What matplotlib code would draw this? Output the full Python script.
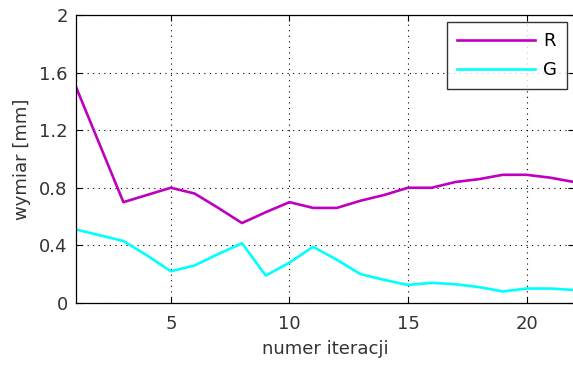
import numpy as np
import matplotlib.pyplot as plt

plt.rcParams['font.family'] = ['DejaVu Sans']

iteracje = np.arange(1, 23)
wymiar_R = [1.50, 1.10, 0.70, 0.75, 0.80, 0.76, 0.66, 0.555, 0.63, 0.70, 0.66, 0.66,
            0.71, 0.75, 0.80, 0.80, 0.84, 0.86, 0.89, 0.89, 0.87, 0.84]
wymiar_G = [0.51, 0.47, 0.43, 0.33, 0.22, 0.26, 0.34, 0.415, 0.19, 0.28, 0.39, 0.30,
            0.20, 0.16, 0.125, 0.14, 0.13, 0.11, 0.08, 0.10, 0.10, 0.09]

fig = plt.figure(figsize=(5.73, 3.65), dpi=100)
ax = fig.add_axes([0.1326, 0.170, 0.8691, 0.789])

ax.plot(iteracje, wymiar_R, color='#bf00bf', lw=1.9, label='R')
ax.plot(iteracje, wymiar_G, color='#00ffff', lw=1.9, label='G')

ax.set_xlim(1, 22)
ax.set_ylim(0, 2)
ax.set_xticks([5, 10, 15, 20])
ax.set_yticks([0, 0.4, 0.8, 1.2, 1.6, 2])
ax.set_yticklabels(['0', '0.4', '0.8', '1.2', '1.6', '2'])
ax.grid(True, color='black', linestyle=(0, (1, 4)), linewidth=0.8)
ax.tick_params(direction='in', labelsize=13, colors='black', labelcolor='#333333',
               length=4, top=True, right=True)
ax.tick_params(axis='x', pad=9)
ax.tick_params(axis='y', pad=6)
ax.set_xlabel('numer iteracji', fontsize=13, color='#333333', labelpad=5)
ax.set_ylabel('wymiar [mm]', fontsize=13, color='#333333', labelpad=6)
for s in ax.spines.values():
    s.set_linewidth(0.9)

leg = ax.legend(loc='upper right', fontsize=13, frameon=True, fancybox=False,
                edgecolor='black', handlelength=4.3, handletextpad=0.45,
                labelspacing=0.6, borderpad=0.55, borderaxespad=0.4)
leg.get_frame().set_linewidth(1.0)

fig.savefig('out.png', dpi=100)
